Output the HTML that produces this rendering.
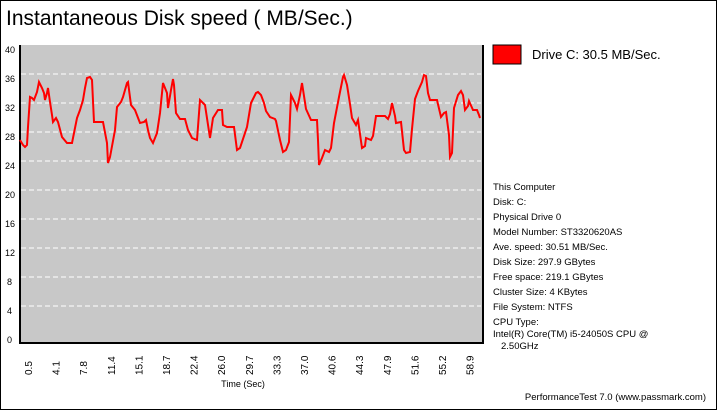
<!DOCTYPE html>
<html><head><style>
body{margin:0;width:717px;height:410px;background:#fff;overflow:hidden}
svg text{font-family:"Liberation Sans",sans-serif}
</style></head><body>
<svg width="717" height="410" xmlns="http://www.w3.org/2000/svg">
<rect x="0.5" y="0.5" width="716" height="409" fill="#fff" stroke="#000"/>
<text x="6" y="25" font-size="21">Instantaneous Disk speed ( MB/Sec.)</text>
<rect x="20" y="45" width="462" height="297" fill="#c8c8c8"/>
<g stroke="#fff" stroke-dasharray="5,3" stroke-width="1">
<line x1="21" x2="481" y1="74" y2="74"/><line x1="21" x2="481" y1="103" y2="103"/>
<line x1="21" x2="481" y1="132" y2="132"/><line x1="21" x2="481" y1="161" y2="161"/>
<line x1="21" x2="481" y1="190" y2="190"/><line x1="21" x2="481" y1="219" y2="219"/>
<line x1="21" x2="481" y1="248" y2="248"/><line x1="21" x2="481" y1="277" y2="277"/>
<line x1="21" x2="481" y1="306" y2="306"/>
</g>
<path d="M20 45 V343 H483 V45" fill="none" stroke="#000" stroke-width="2"/>
<g font-size="9" fill="#000">
<text x="5" y="53">40</text><text x="5" y="82">36</text><text x="5" y="111">32</text>
<text x="5" y="140">28</text><text x="5" y="169">24</text><text x="5" y="198">20</text>
<text x="5" y="227">16</text><text x="5" y="256">12</text><text x="7" y="285">8</text>
<text x="7" y="314">4</text><text x="7" y="343">0</text>
</g>
<polyline fill="none" stroke="#f00" stroke-width="2" points="20,140 23,145 25,147 27,145 28,127 30,97 32,98 34,100 37,92 39,82 42,88 44,93 45,100 47,93 48,88 50,102 52,115 53,122 56,118 58,122 62,137 67,143 72,143 74,133 77,118 80,110 83,100 85,88 87,78 90,77 92,80 94,122 103,122 107,143 108,163 110,157 115,130 117,107 121,102 123,97 127,83 128,82 131,105 135,110 140,123 144,122 146,120 148,130 150,138 153,143 157,133 160,113 163,83 167,93 168,108 171,90 173,79 174,85 176,113 180,119 185,119 188,130 192,138 197,140 200,100 205,105 210,138 213,118 218,110 222,110 223,125 227,127 234,127 237,150 240,148 247,127 251,103 256,93 258,92 261,95 264,103 266,111 270,117 275,119 276,121 280,140 283,152 286,150 289,142 291,95 292,97 295,103 297,109 300,95 302,83 306,109 311,120 317,120 318,140 319,165 322,158 325,150 329,152 331,148 334,123 339,97 343,77 344,75 347,85 350,104 352,118 356,125 358,120 362,148 365,146 366,138 371,140 373,136 376,116 385,116 388,119 390,114 392,103 395,116 396,123 401,122 404,150 406,153 410,152 412,129 415,99 418,91 422,82 424,75 426,76 428,93 430,100 437,100 441,117 444,113 446,112 449,135 450,157 452,153 454,108 458,95 461,91 463,95 465,110 468,106 469,101 473,110 477,110 479,115 480,118"/>
<g font-size="10">
<text transform="translate(32,375) rotate(-90)">0.5</text>
<text transform="translate(59.6,375) rotate(-90)">4.1</text>
<text transform="translate(87.2,375) rotate(-90)">7.8</text>
<text transform="translate(114.8,375) rotate(-90)">11.4</text>
<text transform="translate(142.4,375) rotate(-90)">15.1</text>
<text transform="translate(170,375) rotate(-90)">18.7</text>
<text transform="translate(197.6,375) rotate(-90)">22.4</text>
<text transform="translate(225.2,375) rotate(-90)">26.0</text>
<text transform="translate(252.8,375) rotate(-90)">29.7</text>
<text transform="translate(280.4,375) rotate(-90)">33.3</text>
<text transform="translate(308,375) rotate(-90)">37.0</text>
<text transform="translate(335.6,375) rotate(-90)">40.6</text>
<text transform="translate(363.2,375) rotate(-90)">44.3</text>
<text transform="translate(390.8,375) rotate(-90)">47.9</text>
<text transform="translate(418.4,375) rotate(-90)">51.6</text>
<text transform="translate(446,375) rotate(-90)">55.2</text>
<text transform="translate(473.6,375) rotate(-90)">58.9</text>
</g>
<text x="243" y="387" font-size="9" text-anchor="middle">Time (Sec)</text>
<rect x="493" y="45" width="28" height="19" fill="#f00" stroke="#000"/>
<text x="532" y="59" font-size="13">Drive C: 30.5 MB/Sec.</text>
<g font-size="9.5">
<text x="493" y="190">This Computer</text>
<text x="493" y="205">Disk: C:</text>
<text x="493" y="220">Physical Drive 0</text>
<text x="493" y="235">Model Number: ST3320620AS</text>
<text x="493" y="250">Ave. speed: 30.51 MB/Sec.</text>
<text x="493" y="265">Disk Size: 297.9 GBytes</text>
<text x="493" y="280">Free space: 219.1 GBytes</text>
<text x="493" y="295">Cluster Size: 4 KBytes</text>
<text x="493" y="310">File System: NTFS</text>
<text x="493" y="325">CPU Type:</text>
<text x="493" y="337">Intel(R) Core(TM) i5-24050S CPU @</text>
<text x="501" y="349">2.50GHz</text>
<text x="706" y="400" text-anchor="end">PerformanceTest 7.0 (www.passmark.com)</text>
</g>
</svg>
</body></html>
